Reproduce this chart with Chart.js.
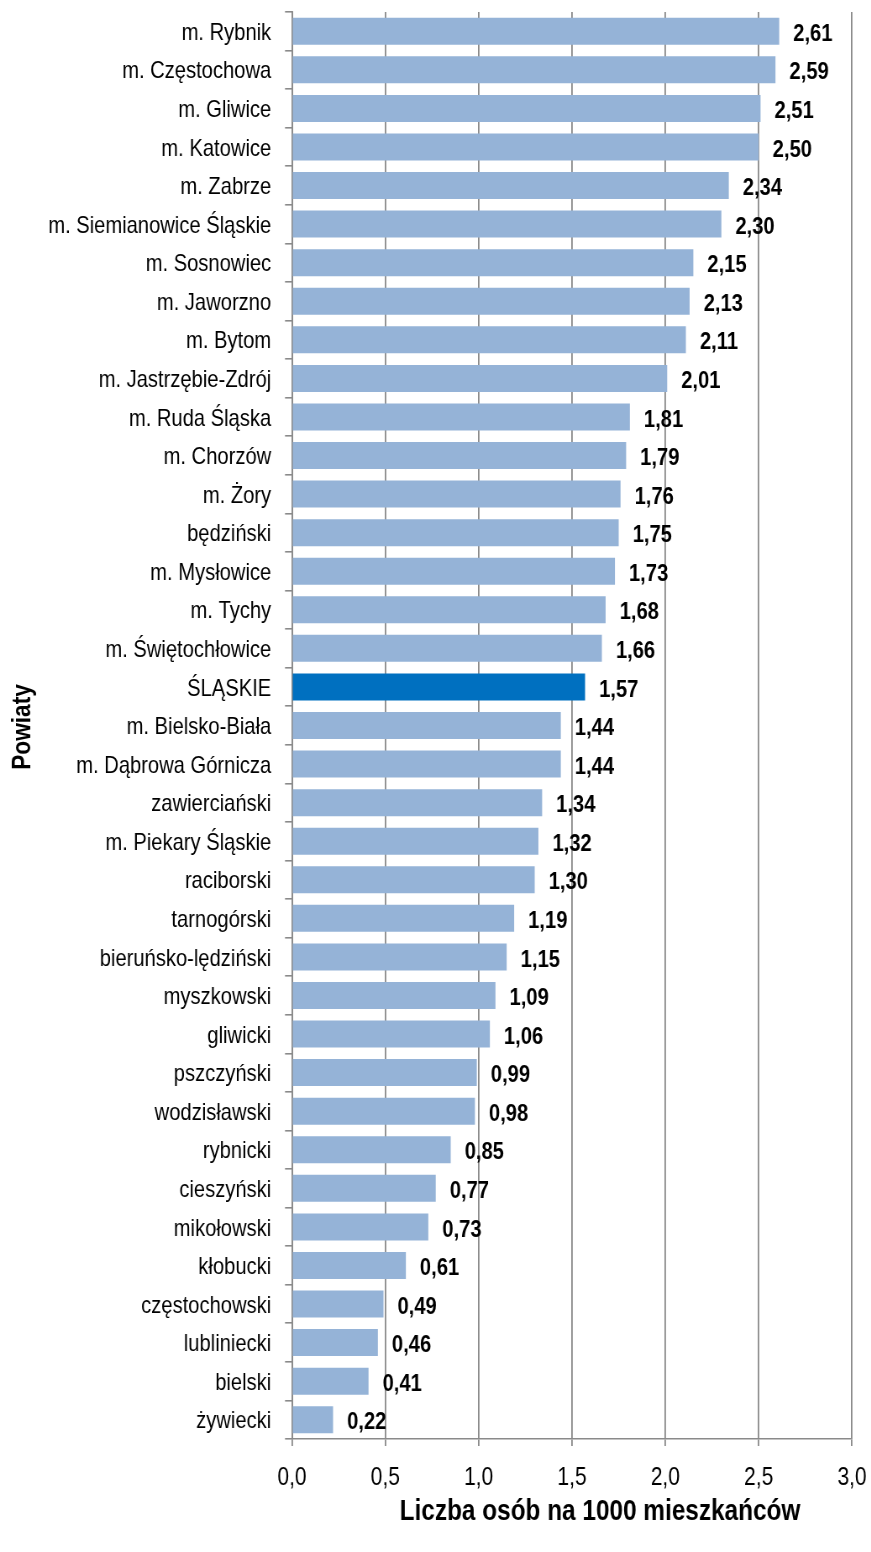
<!DOCTYPE html>
<html>
<head>
<meta charset="utf-8">
<script src="https://cdn.jsdelivr.net/npm/chart.js@4"></script>
<style>
html,body{margin:0;padding:0;background:#fff;overflow:hidden;width:871px;height:1552px;}
#wrap{transform:scaleX(0.84);transform-origin:0 0;width:1037px;height:1552px;}
canvas{display:block;}
</style>
</head>
<body>
<div id="wrap"><canvas id="c" width="1037" height="1552"></canvas></div>
<script>
const categories = [
  "m. Rybnik","m. Częstochowa","m. Gliwice","m. Katowice","m. Zabrze",
  "m. Siemianowice Śląskie","m. Sosnowiec","m. Jaworzno","m. Bytom","m. Jastrzębie-Zdrój",
  "m. Ruda Śląska","m. Chorzów","m. Żory","będziński","m. Mysłowice",
  "m. Tychy","m. Świętochłowice","ŚLĄSKIE","m. Bielsko-Biała","m. Dąbrowa Górnicza",
  "zawierciański","m. Piekary Śląskie","raciborski","tarnogórski","bieruńsko-lędziński",
  "myszkowski","gliwicki","pszczyński","wodzisławski","rybnicki",
  "cieszyński","mikołowski","kłobucki","częstochowski","lubliniecki",
  "bielski","żywiecki"
];
const values = [
  2.61,2.59,2.51,2.50,2.34,
  2.30,2.15,2.13,2.11,2.01,
  1.81,1.79,1.76,1.75,1.73,
  1.68,1.66,1.57,1.44,1.44,
  1.34,1.32,1.30,1.19,1.15,
  1.09,1.06,0.99,0.98,0.85,
  0.77,0.73,0.61,0.49,0.46,
  0.41,0.22
];
const highlightCategory = "ŚLĄSKIE";
const xMin = 0, xMax = 3, xStep = 0.5;
const xTitle = "Liczba osób na 1000 mieszkańców";
const yTitle = "Powiaty";

// horizontal condensing factor (emulates a narrow typeface)
const K = 0.84;
const FONT = '"Liberation Sans", Arial, sans-serif';
const barColor = '#95B3D7';
const hiColor = '#0070C0';
const gridColor = '#8a8a8a';

const labelsPlugin = {
  id: 'labelsPlugin',
  afterDatasetsDraw(chart) {
    const ctx = chart.ctx;
    const meta = chart.getDatasetMeta(0);
    const xs = chart.scales.x;
    ctx.save();
    ctx.fillStyle = '#000';
    ctx.font = 'bold 24px ' + FONT;
    ctx.textAlign = 'left';
    ctx.textBaseline = 'middle';
    meta.data.forEach((bar, i) => {
      const v = values[i];
      const x = xs.getPixelForValue(v) + 16.7;
      ctx.fillText(v.toFixed(2).replace('.', ','), x, bar.y + 3);
    });
    ctx.restore();
  },
  afterDraw(chart) {
    const ctx = chart.ctx;
    ctx.save();
    ctx.fillStyle = '#000';
    ctx.font = 'bold 29px ' + FONT;
    ctx.textAlign = 'center';
    ctx.textBaseline = 'middle';
    ctx.fillText(xTitle, 600 / K, 1512);
    ctx.restore();
    ctx.save();
    ctx.fillStyle = '#000';
    ctx.font = 'bold 27px ' + FONT;
    ctx.textAlign = 'center';
    ctx.textBaseline = 'middle';
    ctx.translate(23 / K, 727);
    ctx.rotate(-Math.PI / 2);
    ctx.scale(K, 1 / K);
    ctx.fillText(yTitle, 0, 0);
    ctx.restore();
  }
};

new Chart(document.getElementById('c'), {
  type: 'bar',
  data: {
    labels: categories,
    datasets: [{
      data: values,
      backgroundColor: categories.map(c => c === highlightCategory ? hiColor : barColor),
      borderWidth: 0,
      barPercentage: 0.70,
      categoryPercentage: 1.0
    }]
  },
  options: {
    indexAxis: 'y',
    responsive: false,
    animation: false,
    devicePixelRatio: 1,
    layout: { padding: { top: 12, right: 1037 - 852 / K, left: 0, bottom: 0 } },
    plugins: { legend: { display: false }, tooltip: { enabled: false } },
    scales: {
      x: {
        min: xMin, max: xMax,
        ticks: {
          stepSize: xStep,
          color: '#000',
          font: { family: FONT, size: 25 },
          padding: 17,
          callback: v => Number(v).toFixed(1).replace('.', ',')
        },
        grid: { color: gridColor, lineWidth: 1.8, tickLength: 7, drawTicks: true },
        border: { color: gridColor, width: 1.6 },
        afterFit(s) { s.height = 113; s.paddingLeft = 0; s.paddingRight = 0; }
      },
      y: {
        ticks: {
          color: '#000',
          font: { family: FONT, size: 24 },
          padding: 16.5,
          labelOffset: 2,
          autoSkip: false
        },
        grid: { drawOnChartArea: false, color: gridColor, lineWidth: 1.6, tickLength: 8.3, offset: true },
        border: { color: gridColor, width: 1.9 },
        afterFit(s) { s.width = 292 / K; s.paddingTop = 0; s.paddingBottom = 0; }
      }
    }
  },
  plugins: [labelsPlugin]
});
</script>
</body>
</html>
